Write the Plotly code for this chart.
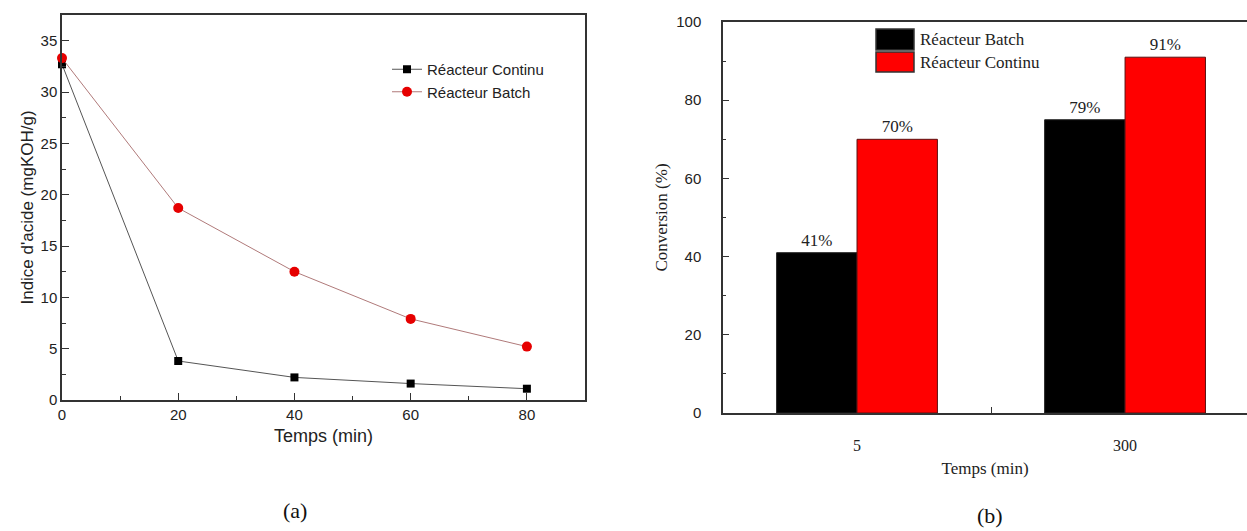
import plotly.graph_objects as go

# ---- data: panel (a) ----
time_min = [0, 20, 40, 60, 80]
acid_continu = [32.7, 3.8, 2.2, 1.6, 1.1]
acid_batch = [33.3, 18.7, 12.5, 7.9, 5.2]

# ---- data: panel (b) ----
bar_times = ["5", "300"]
conv_batch = [41, 75]
conv_continu = [70, 91]
label_batch = ["41%", "79%"]
label_continu = ["70%", "91%"]

W, H = 1247, 531
BLACK = "#000000"
RED = "#ff0000"
SANS = "Liberation Sans, Arial, sans-serif"
SERIF = "Liberation Serif, Times New Roman, serif"
AXC = "#333333"


def fx(p):
    return p / W


def fy(p):
    return 1 - p / H


fig = go.Figure()

# panel (a) lines
fig.add_trace(go.Scatter(
    x=time_min, y=acid_continu, mode="lines+markers", name="Réacteur Continu",
    line=dict(color="#555555", width=1),
    marker=dict(symbol="square", size=8, color=BLACK),
    xaxis="x", yaxis="y", legend="legend", cliponaxis=False))
fig.add_trace(go.Scatter(
    x=time_min, y=acid_batch, mode="lines+markers", name="Réacteur Batch",
    line=dict(color="#b07a7a", width=1),
    marker=dict(symbol="circle", size=10, color="#e60000"),
    xaxis="x", yaxis="y", legend="legend", cliponaxis=False))

# panel (b) bars
fig.add_trace(go.Bar(
    x=bar_times, y=conv_batch, name="Réacteur Batch", text=label_batch,
    textposition="outside", textfont=dict(family=SERIF, size=17, color="#222"),
    marker=dict(color=BLACK, line=dict(color="#222", width=1)),
    xaxis="x2", yaxis="y2", showlegend=False, cliponaxis=False))
fig.add_trace(go.Bar(
    x=bar_times, y=conv_continu, name="Réacteur Continu", text=label_continu,
    textposition="outside", textfont=dict(family=SERIF, size=17, color="#222"),
    marker=dict(color=RED, line=dict(color="#5a1010", width=1)),
    xaxis="x2", yaxis="y2", showlegend=False, cliponaxis=False))

common_axis = dict(showline=True, linecolor=AXC, linewidth=1.5, showgrid=False,
                   zeroline=False, ticks="inside", tickcolor=AXC, automargin=False)

fig.update_layout(
    width=W, height=H,
    margin=dict(l=0, r=0, t=0, b=0, pad=0, autoexpand=False),
    paper_bgcolor="white", plot_bgcolor="white",
    barmode="group", bargap=0.4, bargroupgap=0,
    xaxis=dict(**common_axis, domain=[fx(62), fx(585)], range=[0, 90],
               mirror=True, anchor="y",
               tickvals=[0, 20, 40, 60, 80], ticklen=7,
               minor=dict(dtick=10, tick0=0, ticks="inside", ticklen=4, tickcolor=AXC),
               tickfont=dict(family=SANS, size=15, color="#222"),
               title=dict(text="Temps (min)", font=dict(family=SANS, size=18, color="#222"), standoff=8)),
    yaxis=dict(**common_axis, domain=[fy(400), fy(15)], range=[0, 37.5],
               mirror=True, anchor="x",
               tickvals=[0, 5, 10, 15, 20, 25, 30, 35], ticklen=7,
               minor=dict(dtick=2.5, tick0=0, ticks="inside", ticklen=4, tickcolor=AXC),
               tickfont=dict(family=SANS, size=15, color="#222"),
               title=dict(text="Indice d'acide (mgKOH/g)", font=dict(family=SANS, size=17, color="#222"), standoff=3)),
    xaxis2=dict(**common_axis, domain=[fx(723), 1.0], type="category",
                range=[-0.5, 1.455], mirror=True, anchor="y2",
                tickson="boundaries", ticklen=6, ticklabelstandoff=17,
                tickfont=dict(family=SERIF, size=16, color="#222"),
                title=dict(text="Temps (min)", font=dict(family=SERIF, size=17, color="#222"), standoff=9)),
    yaxis2=dict(**common_axis, domain=[fy(413), fy(22)], range=[0, 100],
                anchor="x2", tickvals=[0, 20, 40, 60, 80, 100], ticklen=6,
                minor=dict(dtick=10, tick0=0, ticks="inside", ticklen=3, tickcolor=AXC),
                ticklabelstandoff=17,
                tickfont=dict(family=SANS, size=15, color="#222"),
                title=dict(text="Conversion (%)", font=dict(family=SERIF, size=17, color="#222"), standoff=4)),
    legend=dict(x=fx(387), y=fy(53), xanchor="left", yanchor="top",
                bgcolor="rgba(0,0,0,0)", borderwidth=0, tracegroupgap=0,
                font=dict(family=SANS, size=15, color="#222")),
    showlegend=True,
)

# panel (b) legend drawn as boxes + labels
leg_items = [("Réacteur Batch", BLACK, 29, 50), ("Réacteur Continu", RED, 52, 72)]
for txt, col, y0, y1 in leg_items:
    fig.add_shape(type="rect", xref="paper", yref="paper",
                  x0=fx(876), x1=fx(914), y0=fy(y1), y1=fy(y0),
                  fillcolor=col, line=dict(color="#333", width=1.5))
    fig.add_annotation(xref="paper", yref="paper", x=fx(918), y=fy((y0 + y1) / 2),
                       xanchor="left", yanchor="middle", showarrow=False, text=txt,
                       font=dict(family=SERIF, size=17, color="#222"))

# captions
fig.add_annotation(xref="paper", yref="paper", x=fx(295), y=fy(510), text="(a)",
                   showarrow=False, xanchor="center", yanchor="middle",
                   font=dict(family=SERIF, size=22, color="#111"))
fig.add_annotation(xref="paper", yref="paper", x=fx(990), y=fy(515), text="(b)",
                   showarrow=False, xanchor="center", yanchor="middle",
                   font=dict(family=SERIF, size=22, color="#111"))

fig.write_html("out.html", config={"displayModeBar": False},
               post_script="document.body.style.margin='0px';document.body.style.overflow='hidden';")
